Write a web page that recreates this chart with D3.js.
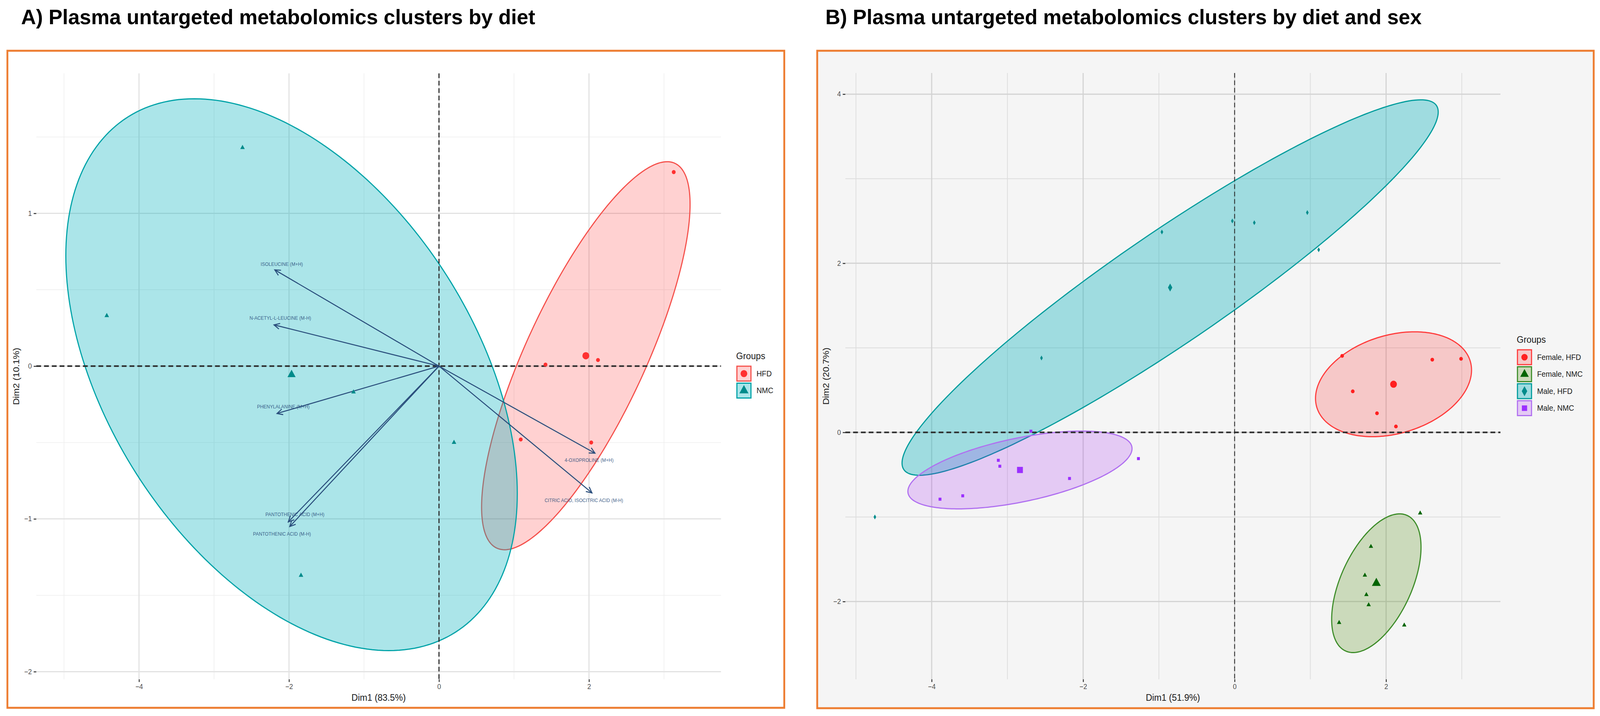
<!DOCTYPE html>
<html><head><meta charset="utf-8">
<script src="https://cdn.jsdelivr.net/npm/d3@7"></script>
<style>
html,body{margin:0;padding:0;background:#fff;overflow:hidden;width:100%;height:100%}
svg{display:block;width:100vw;height:100vh}
text{font-family:"Liberation Sans",Arial,Helvetica,sans-serif}
</style>
</head><body>
<svg id="chart" viewBox="0 0 4323 1834" preserveAspectRatio="none"></svg>
<script>
// ================= DATA =================
// Panel A: PCA biplot by diet
const dietGroups = ["HFD", "NMC"];
const hfdDim1 = [3.13, 1.42, 2.12, 1.09, 2.03];
const hfdDim2 = [1.27, 0.01, 0.04, -0.48, -0.50];
const nmcDim1 = [-2.62, -4.43, -1.14, 0.20, -1.84];
const nmcDim2 = [1.43, 0.33, -0.17, -0.50, -1.37];
// ellipse spread per group: [sd Dim1, sd Dim2, correlation]
const hfdEllipse = [1.39, 1.27, 0.78];
const nmcEllipse = [3.01, 1.806, -0.431];
// variable loadings (arrows)
const varNames = ["ISOLEUCINE (M+H)", "N-ACETYL-L-LEUCINE (M-H)", "PHENYLALANINE (M+H)",
  "PANTOTHENIC ACID (M+H)", "PANTOTHENIC ACID (M-H)", "4-OXOPROLINE (M+H)", "CITRIC ACID, ISOCITRIC ACID (M-H)"];
const varDim1 = [-2.19, -2.20, -2.16, -2.01, -1.99, 2.08, 2.04];
const varDim2 = [0.63, 0.27, -0.31, -1.02, -1.05, -0.57, -0.83];
const ticksAx = [-4, -2, 0, 2];
const ticksAy = [-2, -1, 0, 1];
const minorAx = [-5, -3, -1, 1, 3];
const minorAy = [-1.5, -0.5, 0.5, 1.5];
const titleA = "A) Plasma untargeted metabolomics clusters by diet";
const axisA = ["Dim1 (83.5%)", "Dim2 (10.1%)"];

// Panel B: PCA by diet and sex
const sexDietGroups = ["Female, HFD", "Female, NMC", "Male, HFD", "Male, NMC"];
const fHfdDim1 = [1.42, 2.61, 2.99, 1.56, 1.88, 2.13];
const fHfdDim2 = [0.905, 0.86, 0.87, 0.485, 0.226, 0.07];
const fNmcDim1 = [2.45, 1.80, 1.72, 1.74, 1.77, 1.38, 2.24];
const fNmcDim2 = [-0.955, -1.35, -1.69, -1.92, -2.04, -2.25, -2.28];
const mHfdDim1 = [-2.55, -0.96, -0.03, 0.26, 0.96, 1.11, -4.75];
const mHfdDim2 = [0.88, 2.37, 2.50, 2.48, 2.60, 2.16, -1.00];
const mNmcDim1 = [-2.69, -3.12, -3.10, -2.18, -1.27, -3.59, -3.89];
const mNmcDim2 = [0.014, -0.33, -0.40, -0.545, -0.31, -0.75, -0.79];
const fHfdEllipse = [1.03, 0.62, 0.27];
const fNmcEllipse = [0.59, 0.82, 0.52];
const mHfdEllipse = [3.54, 2.22, 0.935];
const mNmcEllipse = [1.48, 0.46, 0.55];
const ticksBx = [-4, -2, 0, 2];
const ticksBy = [-2, 0, 2, 4];
const minorBx = [-5, -3, -1, 1, 3];
const minorBy = [-1, 1, 3];
const titleB = "B) Plasma untargeted metabolomics clusters by diet and sex";
const axisB = ["Dim1 (51.9%)", "Dim2 (20.7%)"];

// ================= STYLE / LAYOUT =================
const ORANGE = "#ED7D31";
const svg = d3.select("#chart");
const mean = a => d3.mean(a);

function ellipsePts(cx, cy, e) {
  const [s1, s2, r] = e, pts = [], n = 240, q = Math.sqrt(1 - r * r);
  for (let i = 0; i < n; i++) {
    const t = 2 * Math.PI * i / n;
    pts.push([cx + s1 * Math.cos(t), cy + s2 * (r * Math.cos(t) + q * Math.sin(t))]);
  }
  return pts;
}

function drawPanel(cfg) {
  const g = svg.append("g");
  // box
  g.append("rect").attr("x", cfg.box[0]).attr("y", cfg.box[1])
    .attr("width", cfg.box[2] - cfg.box[0]).attr("height", cfg.box[3] - cfg.box[1])
    .attr("fill", cfg.bg).attr("stroke", ORANGE).attr("stroke-width", 5);
  // title
  svg.append("text").attr("x", cfg.titleX).attr("y", 62).attr("font-size", 54)
    .attr("font-weight", "bold").attr("fill", "#000")
    .attr("textLength", cfg.titleLen).attr("lengthAdjust", "spacingAndGlyphs").text(cfg.title);

  const x = d3.scaleLinear().domain(cfg.xd).range([cfg.px[0], cfg.px[1]]);
  const y = d3.scaleLinear().domain(cfg.yd).range([cfg.py[1], cfg.py[0]]);

  // grid
  const grid = g.append("g");
  cfg.minorX.forEach(v => grid.append("line").attr("x1", x(v)).attr("x2", x(v))
    .attr("y1", cfg.py[0]).attr("y2", cfg.py[1]).attr("stroke", cfg.gridMinor).attr("stroke-width", cfg.gwMinor));
  cfg.minorY.forEach(v => grid.append("line").attr("y1", y(v)).attr("y2", y(v))
    .attr("x1", cfg.px[0]).attr("x2", cfg.px[1]).attr("stroke", cfg.gridMinor).attr("stroke-width", cfg.gwMinor));
  cfg.ticksX.forEach(v => grid.append("line").attr("x1", x(v)).attr("x2", x(v))
    .attr("y1", cfg.py[0]).attr("y2", cfg.py[1]).attr("stroke", cfg.gridMajor).attr("stroke-width", cfg.gwMajor));
  cfg.ticksY.forEach(v => grid.append("line").attr("y1", y(v)).attr("y2", y(v))
    .attr("x1", cfg.px[0]).attr("x2", cfg.px[1]).attr("stroke", cfg.gridMajor).attr("stroke-width", cfg.gwMajor));

  // axes
  const ax = g.append("g").attr("transform", `translate(0,${cfg.py[1]})`)
    .call(d3.axisBottom(x).tickValues(cfg.ticksX).tickSize(7).tickPadding(5).tickFormat(d3.format("d")));
  const ay = g.append("g").attr("transform", `translate(${cfg.px[0]},0)`)
    .call(d3.axisLeft(y).tickValues(cfg.ticksY).tickSize(7).tickPadding(5).tickFormat(d3.format("d")));
  [ax, ay].forEach(a => {
    a.select(".domain").remove();
    a.selectAll(".tick line").attr("stroke", "#333").attr("stroke-width", 2.5);
    a.selectAll(".tick text").attr("font-size", 18).attr("fill", "#4D4D4D")
      .attr("font-family", '"Liberation Sans",Arial,sans-serif');
  });
  g.append("text").attr("x", (cfg.px[0] + cfg.px[1]) / 2).attr("y", cfg.py[1] + 55)
    .attr("text-anchor", "middle").attr("font-size", 24).attr("fill", "#1A1A1A").text(cfg.axisT[0]);
  g.append("text").attr("transform", `translate(${cfg.yTitleX},${(cfg.py[0] + cfg.py[1]) / 2}) rotate(-90)`)
    .attr("text-anchor", "middle").attr("font-size", 24).attr("fill", "#1A1A1A").text(cfg.axisT[1]);

  // ellipses
  const line = d3.line().x(d => x(d[0])).y(d => y(d[1])).curve(d3.curveLinearClosed);
  cfg.groups.forEach(gr => {
    const cx = mean(gr.xs), cy = mean(gr.ys);
    g.append("path").attr("d", line(ellipsePts(cx, cy, gr.ell)))
      .attr("fill", gr.fill).attr("fill-opacity", gr.fop)
      .attr("stroke", gr.stroke).attr("stroke-width", 3);
  });

  // zero lines
  g.append("line").attr("x1", cfg.px[0]).attr("x2", cfg.px[1]).attr("y1", y(0)).attr("y2", y(0))
    .attr("stroke", "#2b2b2b").attr("stroke-width", cfg.hzW).attr("stroke-dasharray", "13,8");
  g.append("line").attr("x1", x(0)).attr("x2", x(0)).attr("y1", cfg.py[0]).attr("y2", cfg.py[1])
    .attr("stroke", "#2b2b2b").attr("stroke-width", cfg.vzW).attr("stroke-dasharray", "12,7");

  // arrows (loadings)
  if (cfg.vars) {
    const AC = "#2A4E7C";
    cfg.vars.names.forEach((nm, i) => {
      const x0 = x(0), y0 = y(0), x1 = x(cfg.vars.d1[i]), y1 = y(cfg.vars.d2[i]);
      const ang = Math.atan2(y1 - y0, x1 - x0), L = 17, sp = 0.45;
      g.append("line").attr("x1", x0).attr("y1", y0).attr("x2", x1).attr("y2", y1)
        .attr("stroke", AC).attr("stroke-width", 2.6);
      g.append("path").attr("d",
        `M${x1 - L * Math.cos(ang - sp)},${y1 - L * Math.sin(ang - sp)}L${x1},${y1}L${x1 - L * Math.cos(ang + sp)},${y1 - L * Math.sin(ang + sp)}`)
        .attr("fill", "none").attr("stroke", AC).attr("stroke-width", 2.6);
      const off = cfg.vars.off[i];
      g.append("text").attr("x", x1 + off[0]).attr("y", y1 + off[1]).attr("dy", "0.35em")
        .attr("text-anchor", "middle").attr("font-size", 12.5).attr("fill", AC).attr("fill-opacity", 0.9).text(nm);
    });
  }

  // points
  cfg.groups.forEach(gr => {
    const sym = d3.symbol().type(gr.shape);
    gr.xs.forEach((v, i) => g.append("path").attr("d", sym.size(gr.size)())
      .attr("transform", `translate(${x(v)},${y(gr.ys[i])})`).attr("fill", gr.pt));
    g.append("path").attr("d", d3.symbol().type(gr.shape).size(gr.bigSize)())
      .attr("transform", `translate(${x(mean(gr.xs))},${y(mean(gr.ys))})`).attr("fill", gr.pt);
  });

  // legend
  const lg = g.append("g");
  lg.append("text").attr("x", cfg.leg[0]).attr("y", cfg.leg[1]).attr("dy", "0.35em")
    .attr("font-size", 24).attr("fill", "#1A1A1A").text("Groups");
  cfg.groups.forEach((gr, i) => {
    const ky = cfg.leg[1] + 26 + i * 43.5;
    lg.append("rect").attr("x", cfg.leg[0] + 2).attr("y", ky).attr("width", 38).attr("height", 38)
      .attr("fill", cfg.bg).attr("stroke", "none");
    lg.append("rect").attr("x", cfg.leg[0] + 2).attr("y", ky).attr("width", 38).attr("height", 38)
      .attr("fill", gr.fill).attr("fill-opacity", gr.fop).attr("stroke", gr.stroke).attr("stroke-width", 3);
    lg.append("path").attr("d", d3.symbol().type(gr.shape).size(gr.legSize)())
      .attr("transform", `translate(${cfg.leg[0] + 21},${ky + 19})`).attr("fill", gr.pt);
    lg.append("text").attr("x", cfg.leg[0] + 55).attr("y", ky + 19).attr("dy", "0.35em")
      .attr("font-size", 20).attr("fill", "#1A1A1A").text(gr.name);
  });
}

drawPanel({
  box: [20, 130, 2119, 1813], bg: "#FFFFFF", title: titleA, titleX: 57, titleLen: 1389,
  xd: [-5.37, 3.76], yd: [-2.05, 1.916], px: [98, 1948], py: [188, 1740],
  ticksX: ticksAx, ticksY: ticksAy, minorX: minorAx, minorY: minorAy,
  gridMajor: "#E2E2E2", gridMinor: "#EEEEEE", gwMajor: 3, gwMinor: 1.6,
  hzW: 4, vzW: 3, axisT: axisA, yTitleX: 52,
  groups: [
    { name: dietGroups[0], xs: hfdDim1, ys: hfdDim2, ell: hfdEllipse, shape: d3.symbolCircle,
      pt: "#FF3030", stroke: "#F5504B", fill: "#FF0000", fop: 0.18, size: 85, bigSize: 270, legSize: 260 },
    { name: dietGroups[1], xs: nmcDim1, ys: nmcDim2, ell: nmcEllipse, shape: d3.symbolTriangle,
      pt: "#008B8B", stroke: "#00A3A8", fill: "#00AFBB", fop: 0.33, size: 65, bigSize: 210, legSize: 260 }
  ],
  vars: { names: varNames, d1: varDim1, d2: varDim2,
    off: [[19, -15], [17, -17], [17, -17], [18, -19], [-21, 19], [-16, 18], [-22, 19]] },
  leg: [1989, 912]
});

drawPanel({
  box: [2208, 130, 4306, 1814], bg: "#F5F5F5", title: titleB, titleX: 2230, titleLen: 1611,
  xd: [-5.14, 3.51], yd: [-2.92, 4.25], px: [2284, 4054], py: [187, 1740],
  ticksX: ticksBx, ticksY: ticksBy, minorX: minorBx, minorY: minorBy,
  gridMajor: "#D3D3D3", gridMinor: "#DDDDDD", gwMajor: 3, gwMinor: 2,
  hzW: 4, vzW: 2.2, axisT: axisB, yTitleX: 2240,
  groups: [
    { name: sexDietGroups[0], xs: fHfdDim1, ys: fHfdDim2, ell: fHfdEllipse, shape: d3.symbolCircle,
      pt: "#FF2020", stroke: "#FF3B3B", fill: "#FF0000", fop: 0.18, size: 75, bigSize: 260, legSize: 230 },
    { name: sexDietGroups[1], xs: fNmcDim1, ys: fNmcDim2, ell: fNmcEllipse, shape: d3.symbolTriangle,
      pt: "#006400", stroke: "#3C8C28", fill: "#4F8A10", fop: 0.25, size: 60, bigSize: 250, legSize: 230 },
    { name: sexDietGroups[2], xs: mHfdDim1, ys: mHfdDim2, ell: mHfdEllipse, shape: d3.symbolDiamond,
      pt: "#008B8B", stroke: "#009C9C", fill: "#00AFBB", fop: 0.35, size: 45, bigSize: 120, legSize: 190 },
    { name: sexDietGroups[3], xs: mNmcDim1, ys: mNmcDim2, ell: mNmcEllipse, shape: d3.symbolSquare,
      pt: "#9B30FF", stroke: "#B070F0", fill: "#A020F0", fop: 0.2, size: 60, bigSize: 250, legSize: 200 }
  ],
  leg: [4098, 870]
});
</script>
</body></html>
